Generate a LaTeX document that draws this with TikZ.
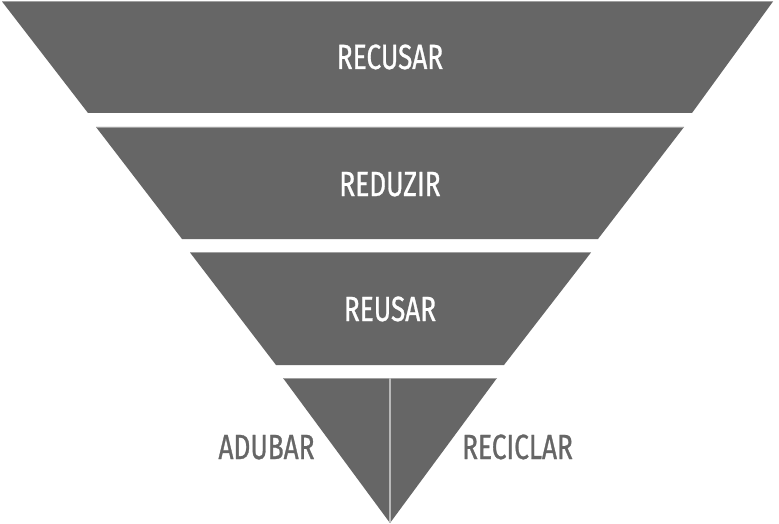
\documentclass[tikz,border=0pt]{standalone}
\usepackage{fontspec}
\setmainfont{Fira Sans}[FakeStretch=0.75,FakeBold=0.8]
\definecolor{bandgrey}{HTML}{666666}
\definecolor{edgegrey}{HTML}{A0A0A0}
\definecolor{divgrey}{HTML}{B8B8B8}
\begin{document}
\begin{tikzpicture}[x=1pt,y=-1pt,
  band/.style={fill=bandgrey},
  toplabel/.style={anchor=base,text=white,font=\fontsize{35}{35}\selectfont,inner sep=0pt},
  sidelabel/.style={anchor=base,text=bandgrey,font=\fontsize{35}{35}\selectfont,inner sep=0pt}]
\useasboundingbox[fill=white] (0,0) rectangle (779,524);
% bands
\fill[band] (2,1.5) -- (773,1.5) -- (692,113) -- (88,113) -- cycle;
\fill[band] (96,127) -- (684,127) -- (598,239) -- (182,239) -- cycle;
\fill[band] (190,252.5) -- (591,252.5) -- (504,365) -- (276,365) -- cycle;
\fill[band] (283,378) -- (497,378) -- (390,523) -- cycle;
\draw[edgegrey,line width=0.8pt] (2,1.5) -- (773,1.5);
\draw[edgegrey,line width=0.8pt] (96,127) -- (684,127);
\draw[edgegrey,line width=0.8pt] (190,252.5) -- (591,252.5);
\draw[edgegrey,line width=0.8pt] (283,378) -- (497,378);
% divider
\coordinate (dtop) at (390,378);
\coordinate (dbot) at (390,523);
\draw[divgrey,line width=1.2pt] (dtop) -- (dbot);
% labels
\node[toplabel] (recusar) at (390,69) {RECUSAR};
\node[toplabel] (reduzir) at (390,196) {REDUZIR};
\node[toplabel] (reusar) at (390,321) {REUSAR};
\node[sidelabel] (adubar) at (266.5,459) {ADUBAR};
\node[sidelabel] (reciclar) at (517.5,459) {RECICLAR};
\end{tikzpicture}
\end{document}
